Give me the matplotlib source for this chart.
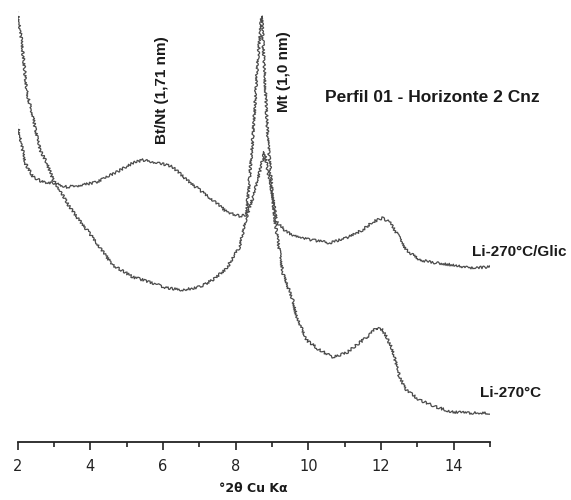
import matplotlib
matplotlib.use("Agg")
import matplotlib.pyplot as plt
import numpy as np

# Li-270°C/Glic trace (2θ, intensity in arbitrary units)
glic_2theta = [2.0, 2.12, 2.26, 2.40, 2.48, 2.62, 2.81, 2.98, 3.17, 3.36, 3.63, 3.91, 4.18,
               4.62, 5.17, 5.64, 6.11, 6.55, 7.01, 7.37, 7.76, 7.92, 8.11, 8.30, 8.52, 8.80,
               8.88, 8.99, 9.13, 9.40, 9.76, 10.12, 10.59, 11.05, 11.49, 11.77, 12.04, 12.23,
               12.43, 12.70, 13.06, 13.52, 13.96, 14.42, 15.0]
glic_int = [430, 399, 349, 329, 315, 292, 279, 262, 252, 239, 225, 212, 199,
            177, 165, 160, 154, 152, 155, 162, 174, 184, 195, 225, 249, 290,
            272, 252, 220, 210, 204, 202, 199, 204, 212, 220, 224, 220,
            209, 192, 182, 179, 177, 174, 175]

# Li-270°C trace
li_2theta = [2.0, 2.10, 2.21, 2.43, 2.70, 2.98, 3.36, 3.80, 4.18, 4.73, 5.17, 5.45, 5.91,
             6.27, 6.66, 7.01, 7.48, 7.76, 8.11, 8.30, 8.47, 8.61, 8.72, 8.89, 9.00, 9.08,
             9.16, 9.30, 9.57, 9.68, 9.95, 10.31, 10.67, 11.05, 11.40, 11.68, 11.87, 12.04,
             12.15, 12.32, 12.51, 12.70, 13.06, 13.52, 13.96, 14.42, 15.0]
li_int = [317, 299, 279, 265, 260, 259, 255, 257, 260, 270, 279, 282, 279,
          275, 262, 252, 239, 230, 226, 227, 302, 382, 426, 302, 252, 222,
          202, 169, 142, 125, 102, 92, 85, 89, 99, 107, 114, 112,
          105, 92, 65, 52, 42, 35, 30, 29, 29]

major_ticks = [2, 4, 6, 8, 10, 12, 14]
minor_ticks = [3, 5, 7, 9, 11, 13, 15]

W, H = 571, 500
fig = plt.figure(figsize=(W / 100, H / 100), dpi=100)
ax = fig.add_axes([17.5 / W, 58 / H, (490 - 17.5) / W, 442 / H])

line_col = "#4a4a4a"
for xs, ys in [(glic_2theta, glic_int), (li_2theta, li_int)]:
    ln, = ax.plot(xs, ys, color=line_col, lw=0.9)
    # rough pen look of the scanned diffractogram
    ln.set_sketch_params(scale=1.3, length=2.5, randomness=3)

ax.set_xlim(2, 15)
ax.set_ylim(0, 442)
for side in ["top", "right", "left"]:
    ax.spines[side].set_visible(False)
ax.spines["bottom"].set_linewidth(1.3)
ax.spines["bottom"].set_color("#222222")
ax.set_yticks([])
ax.set_xticks(major_ticks)
ax.set_xticks(minor_ticks, minor=True)
ax.tick_params(axis="x", which="major", direction="out", length=6, width=1.2,
               labelsize=10.5, pad=6, colors="#222222")
ax.tick_params(axis="x", which="minor", direction="out", length=3.5, width=1.2,
               colors="#222222")
ax.patch.set_visible(False)

def fx(px):
    return px / W

def fy(py):
    return 1 - py / H

bold = dict(fontweight="bold", family="Liberation Sans", color="#1a1a1a")
fig.text(fx(432), fy(98), "Perfil 01 - Horizonte 2 Cnz", ha="center", va="center",
         fontsize=12.5, **bold)
fig.text(fx(472), fy(252), "Li-270°C/Glic", ha="left", va="center", fontsize=11, **bold)
fig.text(fx(480), fy(393), "Li-270°C", ha="left", va="center", fontsize=11, **bold)
fig.text(fx(162), fy(90), "Bt/Nt (1,71 nm)", ha="center", va="center", rotation=90,
         fontsize=11, **bold)
fig.text(fx(284), fy(72), "Mt (1,0 nm)", ha="center", va="center", rotation=90,
         fontsize=11, **bold)
fig.text(fx(253), fy(488), "°2θ Cu Kα", ha="center", va="center", fontsize=9,
         fontweight="bold", color="#1a1a1a")

fig.savefig("out.png", dpi=100)
